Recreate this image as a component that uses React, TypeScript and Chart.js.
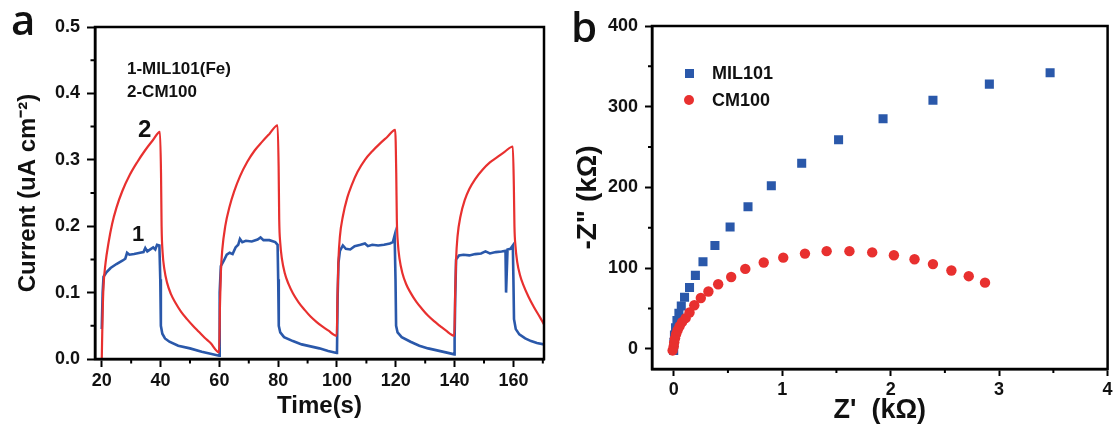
import React, { useEffect, useRef } from 'react';
import { Chart, registerables } from 'chart.js';

Chart.register(...registerables);

const FONT = "'Liberation Sans', Arial, sans-serif";
const INK = '#111111';
const RED = '#e8302f';
const BLUE = '#2a58aa';

// ---------- Panel a: photocurrent vs time ----------
const timeTicks = [20, 40, 60, 80, 100, 120, 140, 160];
const timeMinorTicks = [30, 50, 70, 90, 110, 130, 150, 170];
const currentTicks = [0, 0.1, 0.2, 0.3, 0.4, 0.5];
const currentMinorTicks = [0.05, 0.15, 0.25, 0.35, 0.45];

const cm100Time = [
  20.0, 20.3, 20.6, 21.3, 22.3, 23.5, 25.0, 27.0, 29.5, 32.0, 34.7, 37.3, 39.8,
  40.15, 40.35, 40.7, 41.3, 42.2, 43.5, 45.0, 47.0, 49.0, 51.0, 53.0, 55.0, 57.0, 59.9,
  60.2, 60.5, 61.0, 62.0, 63.5, 65.0, 67.0, 69.5, 72.0, 74.5, 77.0, 79.8,
  80.15, 80.35, 80.7, 81.3, 82.2, 83.5, 85.0, 87.0, 89.0, 91.0, 93.0, 95.0, 97.0, 99.9,
  100.2, 100.5, 101.0, 102.0, 103.5, 105.0, 107.0, 109.5, 112.0, 114.5, 117.0, 119.8,
  120.15, 120.35, 120.7, 121.3, 122.2, 123.5, 125.0, 127.0, 129.0, 131.0, 133.0, 135.0, 137.0, 139.9,
  140.2, 140.5, 141.0, 142.0, 143.5, 145.0, 147.0, 149.5, 152.0, 154.5, 157.0, 159.8,
  160.15, 160.35, 160.7, 161.3, 162.2, 163.5, 165.0, 167.0, 169.0, 170.4,
];
const cm100Current = [
  0.0, 0.07, 0.11, 0.145, 0.175, 0.203, 0.228, 0.253, 0.277, 0.296, 0.314, 0.329, 0.342,
  0.28, 0.2, 0.16, 0.135, 0.115, 0.098, 0.085, 0.071, 0.06, 0.05, 0.041, 0.032, 0.024, 0.01,
  0.08, 0.13, 0.165, 0.2, 0.23, 0.252, 0.275, 0.297, 0.314, 0.327, 0.339, 0.352,
  0.29, 0.21, 0.175, 0.15, 0.13, 0.113, 0.099, 0.085, 0.074, 0.064, 0.056, 0.049, 0.043, 0.035,
  0.1, 0.15, 0.185, 0.215, 0.243, 0.262, 0.282, 0.3, 0.313, 0.324, 0.334, 0.345,
  0.28, 0.21, 0.175, 0.15, 0.13, 0.113, 0.1, 0.086, 0.075, 0.065, 0.057, 0.05, 0.043, 0.035,
  0.1, 0.15, 0.185, 0.215, 0.24, 0.256, 0.271, 0.285, 0.296, 0.304, 0.312, 0.32,
  0.26, 0.2, 0.17, 0.146, 0.127, 0.11, 0.095, 0.078, 0.063, 0.052,
];

const milTime = [
  20.0, 20.3, 20.6, 21.5, 23.0, 25.0, 27.0, 28.0, 28.6, 29.4, 31.0, 33.0, 34.2, 34.8, 35.5, 36.5, 37.5, 38.2, 38.8, 39.6,
  39.9, 40.1, 40.6, 41.5, 43.0, 46.0, 50.0, 54.0, 57.0, 59.9,
  60.0, 60.2, 60.5, 61.5, 62.5, 63.5, 64.5, 65.5, 66.4, 67.0, 67.8, 69.0, 71.0, 73.0, 74.0, 75.0, 77.0, 79.0, 79.8,
  80.0, 80.2, 80.7, 82.0, 85.0, 88.0, 91.0, 94.0, 97.0, 99.9,
  100.0, 100.2, 100.5, 101.0, 102.0, 103.0, 104.5, 106.0, 108.0, 109.5, 110.5, 112.0, 114.0, 116.0, 118.0, 119.0, 119.6,
  119.9, 120.1, 120.6, 122.0, 125.0, 128.0, 131.0, 134.0, 137.0, 139.9,
  140.0, 140.2, 140.5, 141.5, 143.0, 145.0, 147.0, 149.0, 150.5, 152.0, 154.0, 156.0, 157.3, 157.5, 157.8, 158.0, 159.0, 159.8,
  160.0, 160.2, 160.8, 162.0, 164.0, 166.0, 168.0, 170.4,
];
const milCurrent = [
  0.045, 0.1, 0.124, 0.13, 0.137, 0.143, 0.148, 0.151, 0.16, 0.157, 0.158, 0.16, 0.161, 0.167, 0.162, 0.165, 0.168, 0.165, 0.172, 0.171,
  0.12, 0.05, 0.038, 0.031, 0.026, 0.02, 0.016, 0.011, 0.008, 0.005,
  0.005, 0.1, 0.14, 0.148, 0.157, 0.16, 0.158, 0.168, 0.172, 0.181, 0.176, 0.178, 0.177, 0.18, 0.183, 0.179, 0.179, 0.176, 0.172,
  0.12, 0.05, 0.04, 0.033, 0.027, 0.022, 0.019, 0.016, 0.012, 0.009,
  0.01, 0.09, 0.145, 0.163, 0.171, 0.166, 0.165, 0.17, 0.172, 0.174, 0.17, 0.172, 0.171, 0.172, 0.174, 0.176, 0.186,
  0.12, 0.05, 0.04, 0.033, 0.026, 0.02, 0.016, 0.013, 0.01, 0.007,
  0.03, 0.09, 0.15, 0.156, 0.157, 0.156, 0.158, 0.159, 0.162, 0.159, 0.161, 0.162, 0.163, 0.1, 0.1, 0.165, 0.166, 0.171,
  0.12, 0.06, 0.045, 0.037, 0.031, 0.027, 0.024, 0.022,
];

// ---------- Panel b: Nyquist plot ----------
const zRealTicks = [0, 1, 2, 3, 4];
const zRealMinorTicks = [0.5, 1.5, 2.5, 3.5];
const zImagTicks = [0, 100, 200, 300, 400];
const zImagMinorTicks = [50, 150, 250, 350];

const milZre = [0, 0.002, 0.007, 0.017, 0.03, 0.048, 0.07, 0.1, 0.146, 0.2, 0.27, 0.38, 0.52, 0.685, 0.9, 1.18, 1.52, 1.93, 2.39, 2.91, 3.47];
const milZim = [-2, 8, 17, 26, 35, 44, 53, 64, 76, 91, 108, 128, 151, 176, 202, 230, 259, 285, 308, 328, 342];

const cmZre = [-0.01, 0.0, 0.005, 0.012, 0.022, 0.036, 0.054, 0.077, 0.11, 0.146, 0.19, 0.25, 0.32, 0.41, 0.53, 0.66, 0.83, 1.01, 1.21, 1.41, 1.62, 1.83, 2.03, 2.22, 2.39, 2.56, 2.72, 2.87];
const cmZim = [-2, 3, 8, 13, 18, 23, 28, 33, 38, 45, 54, 63, 71, 80, 89, 99, 107, 113, 118, 121, 121, 119.5, 116, 111, 105, 97, 90, 82];

const zip = (xs: number[], ys: number[]) => xs.map((x, i) => ({ x, y: ys[i] }));

function framePlugin(minorX: number[], minorY: number[], minorLen: number) {
  return {
    id: 'frameAndMinor',
    afterDraw(chart: any) {
      const { ctx, chartArea: a, scales } = chart;
      ctx.save();
      ctx.strokeStyle = '#000';
      ctx.lineWidth = 2.5;
      ctx.strokeRect(a.left, a.top, a.right - a.left, a.bottom - a.top);
      ctx.lineWidth = 2;
      ctx.beginPath();
      for (const v of minorX) {
        const px = scales.x.getPixelForValue(v);
        ctx.moveTo(px, a.bottom);
        ctx.lineTo(px, a.bottom + minorLen);
      }
      for (const v of minorY) {
        const py = scales.y.getPixelForValue(v);
        ctx.moveTo(a.left, py);
        ctx.lineTo(a.left - minorLen, py);
      }
      ctx.stroke();
      ctx.restore();
    },
  };
}

const tickFont = { family: FONT, size: 18, weight: 'bold' as const };
const gridOpts = (len: number) => ({
  drawOnChartArea: false,
  drawTicks: true,
  tickLength: len,
  tickWidth: 2,
  tickColor: '#000',
  color: '#000',
});
const borderOpts = { display: true, color: '#000', width: 2.5 };

function configA(): any {
  return {
    type: 'line',
    data: {
      datasets: [
        {
          label: 'CM100',
          data: zip(cm100Time, cm100Current),
          borderColor: RED,
          borderWidth: 2.2,
          pointRadius: 0,
          cubicInterpolationMode: 'monotone',
          fill: false,
          order: 1,
        },
        {
          label: 'MIL101(Fe)',
          data: zip(milTime, milCurrent),
          borderColor: BLUE,
          borderWidth: 2.6,
          pointRadius: 0,
          tension: 0,
          fill: false,
          order: 2,
        },
      ],
    },
    options: {
      responsive: false,
      animation: false,
      devicePixelRatio: 1,
      layout: { padding: { left: 0, top: 27, right: 16, bottom: 0 } },
      plugins: { legend: { display: false }, tooltip: { enabled: false }, title: { display: false } },
      scales: {
        x: {
          type: 'linear',
          min: 17.7,
          max: 170.4,
          afterBuildTicks: (s: any) => { s.ticks = timeTicks.map((v) => ({ value: v })); },
          afterFit: (s: any) => { s.height = 66; s.paddingLeft = 0; s.paddingRight = 0; },
          ticks: { padding: 3, font: tickFont, color: INK, maxRotation: 0, autoSkip: false, callback: (v: any) => String(v) },
          grid: gridOpts(8),
          border: borderOpts,
          title: {
            display: true,
            text: 'Time(s)',
            color: INK,
            font: { family: FONT, size: 24, weight: 'bold', lineHeight: 1.2 },
            padding: { top: 0, bottom: 4 },
          },
        },
        y: {
          type: 'linear',
          min: 0,
          max: 0.5,
          afterBuildTicks: (s: any) => { s.ticks = currentTicks.map((v) => ({ value: v })); },
          afterFit: (s: any) => { s.width = 95; s.paddingTop = 0; s.paddingBottom = 0; },
          ticks: { padding: 7, font: tickFont, color: INK, autoSkip: false, callback: (v: any) => Number(v).toFixed(1) },
          grid: gridOpts(8),
          border: borderOpts,
          title: {
            display: true,
            text: 'Current (uA cm\u207B\u00B2)',
            color: INK,
            font: { family: FONT, size: 24, weight: 'bold', lineHeight: 1.2 },
            padding: { top: 14, bottom: 0 },
          },
        },
      },
    },
    plugins: [framePlugin(timeMinorTicks, currentMinorTicks, 4.5)],
  };
}

function configB(): any {
  return {
    type: 'scatter',
    data: {
      datasets: [
        {
          label: 'MIL101',
          data: zip(milZre, milZim),
          pointStyle: 'rect',
          pointRadius: 6.4,
          backgroundColor: BLUE,
          borderWidth: 0,
          order: 2,
        },
        {
          label: 'CM100',
          data: zip(cmZre, cmZim),
          pointStyle: 'circle',
          pointRadius: 5.2,
          backgroundColor: RED,
          borderWidth: 0,
          order: 1,
        },
      ],
    },
    options: {
      responsive: false,
      animation: false,
      devicePixelRatio: 1,
      layout: { padding: { left: 0, top: 26, right: 1, bottom: 0 } },
      plugins: { legend: { display: false }, tooltip: { enabled: false }, title: { display: false } },
      scales: {
        x: {
          type: 'linear',
          min: -0.2,
          max: 4,
          afterBuildTicks: (s: any) => { s.ticks = zRealTicks.map((v) => ({ value: v })); },
          afterFit: (s: any) => { s.height = 56; s.paddingLeft = 0; s.paddingRight = 0; },
          ticks: { padding: 3, font: tickFont, color: INK, maxRotation: 0, autoSkip: false, callback: (v: any) => String(v) },
          grid: gridOpts(7),
          border: borderOpts,
          title: {
            display: true,
            text: "Z'  (k\u03A9)",
            color: INK,
            font: { family: FONT, size: 27, weight: 'bold', lineHeight: 1.05 },
            padding: { top: 0, bottom: 0 },
          },
        },
        y: {
          type: 'linear',
          min: -25,
          max: 400,
          afterBuildTicks: (s: any) => { s.ticks = zImagTicks.map((v) => ({ value: v })); },
          afterFit: (s: any) => { s.width = 92; s.paddingTop = 0; s.paddingBottom = 0; },
          ticks: { padding: 7, font: tickFont, color: INK, autoSkip: false, callback: (v: any) => String(v) },
          grid: gridOpts(7),
          border: borderOpts,
          title: {
            display: true,
            text: '-Z" (k\u03A9)',
            color: INK,
            font: { family: FONT, size: 28, weight: 'bold', lineHeight: 1.05 },
            padding: { top: 14, bottom: 0 },
          },
        },
      },
    },
    plugins: [framePlugin(zRealMinorTicks, zImagMinorTicks, 4)],
  };
}

const txt = (left: number, top: number, size: number, extra: React.CSSProperties = {}): React.CSSProperties => ({
  position: 'absolute',
  left,
  top,
  fontFamily: FONT,
  fontWeight: 'bold',
  fontSize: size,
  lineHeight: 1,
  whiteSpace: 'nowrap',
  color: INK,
  ...extra,
});

export default function App() {
  const aRef = useRef<HTMLCanvasElement>(null);
  const bRef = useRef<HTMLCanvasElement>(null);

  useEffect(() => {
    const ca = new Chart(aRef.current as HTMLCanvasElement, configA());
    const cb = new Chart(bRef.current as HTMLCanvasElement, configB());
    return () => {
      ca.destroy();
      cb.destroy();
    };
  }, []);

  const panelLetter = { fontFamily: "'Open Sans', sans-serif", fontWeight: 600 as const };

  return (
    <div style={{ position: 'fixed', left: 0, top: 0, width: 1114, height: 425, background: '#fff', overflow: 'hidden' }}>
      <canvas ref={aRef} width={560} height={425} style={{ position: 'absolute', left: 0, top: 0, width: 560, height: 425 }} />
      <canvas ref={bRef} width={554} height={425} style={{ position: 'absolute', left: 560, top: 0, width: 554, height: 425 }} />

      <div style={txt(11, -2, 42, panelLetter)}>a</div>
      <div style={txt(571, 5, 42, panelLetter)}>b</div>

      <div style={txt(127, 60, 17)}>1-MIL101(Fe)</div>
      <div style={txt(127, 83, 17)}>2-CM100</div>
      <div style={txt(138, 117, 24)}>2</div>
      <div style={txt(132, 223, 22)}>1</div>

      <div style={{ position: 'absolute', left: 684.5, top: 68.5, width: 9, height: 9, background: BLUE }} />
      <div style={txt(712, 64, 18)}>MIL101</div>
      <div style={{ position: 'absolute', left: 684, top: 95, width: 10.4, height: 10.4, borderRadius: '50%', background: RED }} />
      <div style={txt(712, 91, 18)}>CM100</div>
    </div>
  );
}
